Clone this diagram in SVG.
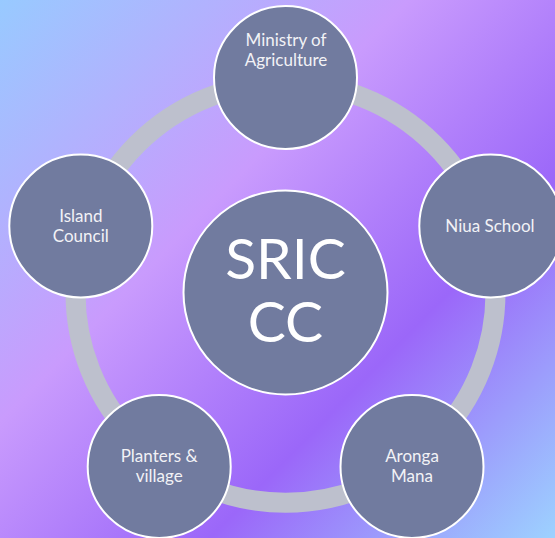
<svg xmlns="http://www.w3.org/2000/svg" width="555" height="538" viewBox="0 0 555 538">
  <defs>
    <linearGradient id="bg" x1="0" y1="0" x2="555" y2="538" gradientUnits="userSpaceOnUse">
      <stop offset="0" stop-color="#98caff"/>
      <stop offset="0.38" stop-color="#c99bfd"/>
      <stop offset="0.68" stop-color="#9b67f9"/>
      <stop offset="1" stop-color="#9dd2ff"/>
    </linearGradient>
  </defs>
  <style>
    .node { fill: #717b9f; stroke: #ffffff; stroke-width: 2; }
    .lbl { font-family: Lato, "Open Sans", "Liberation Sans", sans-serif; font-size: 17px; fill: #f2f2f6; text-anchor: middle; }
    .big { font-family: Lato, "Open Sans", "Liberation Sans", sans-serif; font-size: 57px; fill: #ffffff; text-anchor: middle; }
  </style>
  <rect x="0" y="0" width="555" height="538" fill="url(#bg)"/>
  <g id="connectors">
    <circle cx="285.5" cy="292.7" r="210" fill="none" stroke="#bdc0cd" stroke-width="20"/>
  </g>
  <g id="node-center">
    <circle class="node" cx="285.5" cy="292.5" r="102"/>
    <text class="big" x="285.5" y="278.5">SRIC</text>
    <text class="big" x="285.5" y="342">CC</text>
  </g>
  <g id="node-ministry">
    <circle class="node" cx="285.5" cy="77.5" r="71.5"/>
    <text class="lbl" x="286" y="46.2">Ministry of</text>
    <text class="lbl" x="286" y="65.5">Agriculture</text>
  </g>
  <g id="node-niua">
    <circle class="node" cx="490.8" cy="226" r="71.5"/>
    <text class="lbl" x="490" y="231.7">Niua School</text>
  </g>
  <g id="node-aronga">
    <circle class="node" cx="412" cy="466.5" r="71.5"/>
    <text class="lbl" x="412" y="461.7">Aronga</text>
    <text class="lbl" x="412" y="481.7">Mana</text>
  </g>
  <g id="node-planters">
    <circle class="node" cx="159.2" cy="466.5" r="71.5"/>
    <text class="lbl" x="159.2" y="461.7">Planters &amp;</text>
    <text class="lbl" x="159.2" y="481.7">village</text>
  </g>
  <g id="node-island">
    <circle class="node" cx="80.8" cy="226" r="71.5"/>
    <text class="lbl" x="80.8" y="221.7">Island</text>
    <text class="lbl" x="80.8" y="241.7">Council</text>
  </g>
</svg>
